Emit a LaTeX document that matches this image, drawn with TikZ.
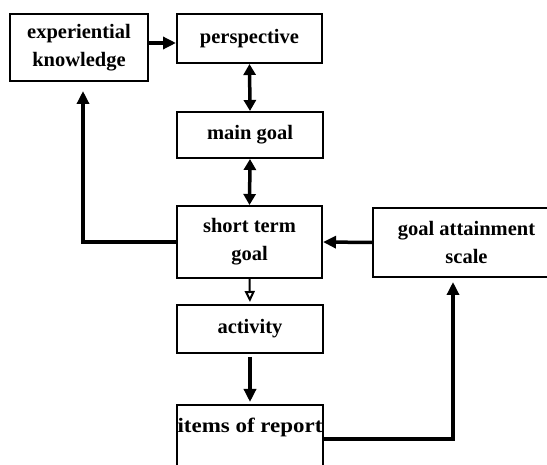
\documentclass[tikz,border=0pt]{standalone}
\usepackage{fontspec}
\setmainfont{Liberation Serif}
\usetikzlibrary{arrows.meta,calc}
\begin{document}
\begin{tikzpicture}[x=1pt,y=-1pt,
  lbl/.style={font=\fontsize{20.5}{28}\selectfont\bfseries},
  box/.style={draw,line width=2pt,rectangle,inner sep=0pt,align=center,lbl},
  arr/.style={line width=3.5pt,-{Triangle[length=13pt,width=12pt]}},
  darr/.style={line width=3.5pt,{Triangle[length=11pt,width=12pt]}-{Triangle[length=11pt,width=12pt]}},
  thinarr/.style={line width=2pt,-{Triangle[open,length=11pt,width=10pt,line width=2pt]}}]
\useasboundingbox (0,0) rectangle (547,465);
\clip (0,0) rectangle (547,465);
\node[box,minimum width=138pt,minimum height=67pt] (exp) at (79,47.5) {experiential\\knowledge};
\node[box,minimum width=145pt,minimum height=49pt] (persp) at (249.5,38.5) {perspective};
\node[box,minimum width=146pt,minimum height=46pt] (main) at (250,135) {main goal};
\node[box,minimum width=145pt,minimum height=72pt] (short) at (249.5,242) {short term\\goal};
\node[box,minimum width=187pt,minimum height=69pt] (gas) at (466.5,242.5) {goal attainment\\scale};
\node[box,minimum width=146pt,minimum height=48pt] (act) at (250,329) {activity};
\node[box,minimum width=146pt,minimum height=100pt] (items) at (250,455) {};
\node[lbl,inner sep=0pt] (itemslabel) at (250,427) {\scalebox{1.12}[1]{items of report}};
\draw[arr] (exp.east |- 0,43) -- (persp.west |- 0,43);
\draw[darr] (persp.south) -- (main.north);
\draw[darr] (main.south) -- (short.north);
\draw[arr,shorten >=9pt] (short.west) -| ([xshift=4pt]exp.south);
\draw[arr] (gas.west) -- (short.east);
\draw[thinarr,shorten >=2pt] (short.south) -- (act.north);
\draw[arr,shorten <=3pt,shorten >=2pt] (act.south) -- (items.north);
\draw[arr,shorten >=4pt] (items.east |- 0,439) -| (gas.south -| 453,0);
\end{tikzpicture}
\end{document}
